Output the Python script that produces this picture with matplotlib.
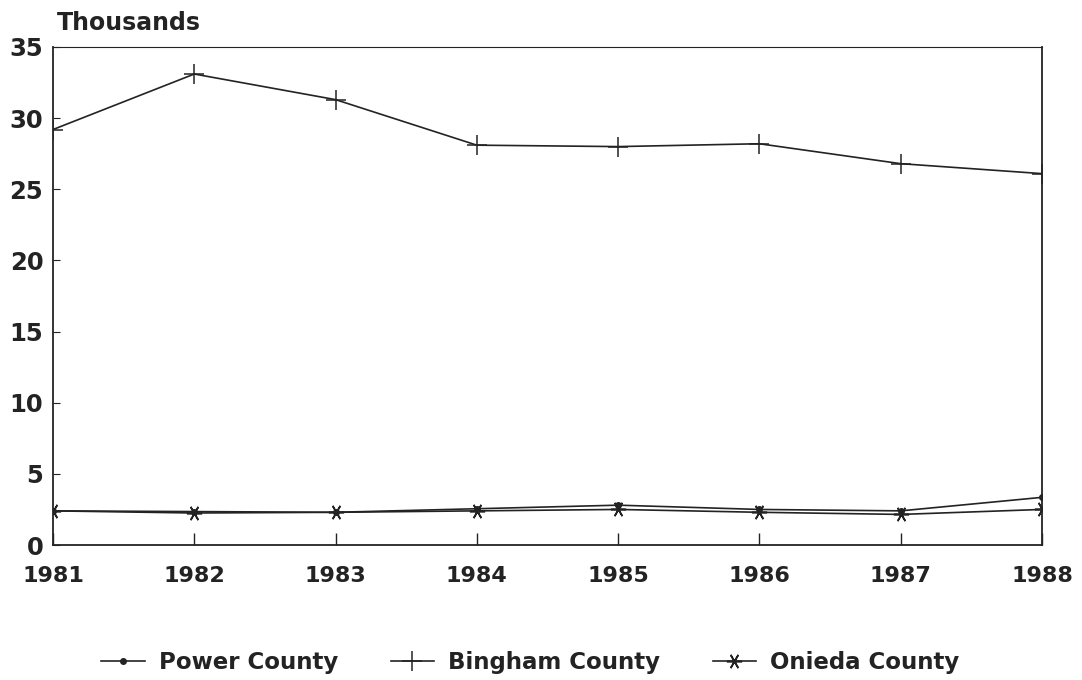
import matplotlib
matplotlib.use("Agg")
import matplotlib.pyplot as plt

years = [1981, 1982, 1983, 1984, 1985, 1986, 1987, 1988]
power = [2.4, 2.35, 2.3, 2.55, 2.8, 2.5, 2.4, 3.35]
bingham = [29.2, 33.1, 31.3, 28.1, 28.0, 28.2, 26.8, 26.1]
onieda = [2.4, 2.25, 2.3, 2.4, 2.5, 2.3, 2.15, 2.5]
yticks = [0, 5, 10, 15, 20, 25, 30, 35]

col = '#232323'
plt.rcParams['font.family'] = ['DejaVu Sans']
plt.rcParams['font.weight'] = 'bold'

fig = plt.figure(figsize=(10.82, 6.8), dpi=100)
ax = fig.add_axes([0.049, 0.1985, 0.914, 0.7324])

ax.plot(years, power, color=col, lw=1.2, marker='o', ms=4, label='Power County')
ax.plot(years, bingham, color=col, lw=1.2, marker='+', ms=14, mew=1.1, label='Bingham County')
ax.plot(years, onieda, color=col, lw=1.2, marker=(6, 2, 90), ms=11, mew=1.2, label='Onieda County')

ax.set_xlim(1981, 1988)
ax.set_ylim(0, 35)
ax.set_xticks(years)
ax.set_yticks(yticks)
ax.tick_params(axis='x', direction='in', length=8.5, width=1, labelsize=16, colors=col, pad=15)
ax.tick_params(axis='y', direction='in', length=5, width=0.8, labelsize=17.5, colors=col, pad=7)
for s in ax.spines.values():
    s.set_linewidth(1.3)
    s.set_color(col)
ax.spines['top'].set_linewidth(0.8)
ax.spines['top'].set_linestyle((0, (6, 1)))

fig.text(0.053, 0.956, 'Thousands', fontsize=17, fontweight='bold', color=col, va='baseline')

leg = fig.legend(loc='center', bbox_to_anchor=(0.49, 0.026), ncol=3, frameon=False,
                 prop={'weight': 'bold', 'size': 16.5},
                 handlelength=1.9, columnspacing=2.3, handletextpad=0.6)
for t in leg.get_texts():
    t.set_color(col)

fig.savefig('out.png', dpi=100)
